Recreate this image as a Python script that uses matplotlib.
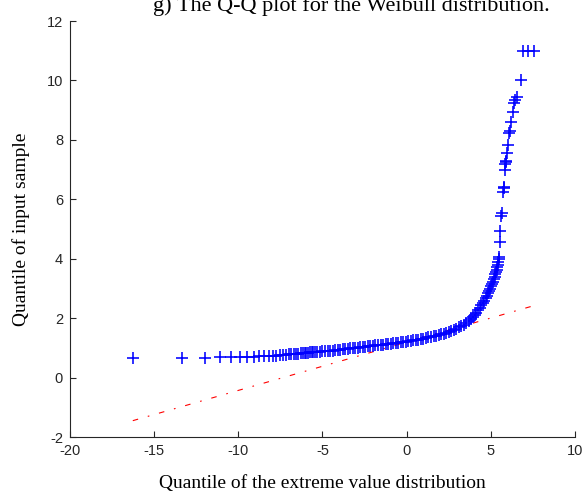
import matplotlib
matplotlib.use("Agg")
import matplotlib.pyplot as plt

# Theoretical quantiles (extreme value distribution) and sorted sample values
x_quant = [
    -16.27, -13.36, -12.00, -11.11, -10.44, -9.91, -9.47, -9.09, -8.76, -8.46,
    -8.20, -7.96, -7.74, -7.53, -7.34, -7.17, -7.00, -6.85, -6.70, -6.56,
    -6.43, -6.30, -6.18, -6.06, -5.95, -5.84, -5.74, -5.64, -5.55, -5.46,
    -5.30, -5.15, -5.00, -4.85, -4.70, -4.55, -4.40, -4.25, -4.10, -3.95,
    -3.80, -3.65, -3.50, -3.35, -3.20, -3.05, -2.90, -2.75, -2.60, -2.45,
    -2.30, -2.15, -2.00, -1.85, -1.70, -1.55, -1.40, -1.25, -1.10, -0.95,
    -0.80, -0.65, -0.50, -0.35, -0.20, -0.05, 0.10, 0.25, 0.40, 0.55,
    0.70, 0.85, 1.00, 1.15, 1.30, 1.45, 1.60, 1.75, 1.90, 2.05,
    2.20, 2.35, 2.50, 2.65, 2.80, 2.95, 3.10, 3.25, 3.40, 3.55,
    3.70, 3.82, 3.94, 4.05, 4.15, 4.25, 4.35, 4.44, 4.53, 4.61,
    4.69, 4.77, 4.84, 4.91, 4.97, 5.03, 5.09, 5.14, 5.19, 5.23,
    5.27, 5.31, 5.35, 5.38, 5.41, 5.44, 5.47, 5.49, 5.54, 5.58,
    5.62, 5.66, 5.74, 5.76, 5.78, 5.82, 5.86, 5.88, 5.90, 5.94,
    6.02, 6.11, 6.17, 6.23, 6.31, 6.37, 6.47, 6.57, 6.77, 6.92,
    7.22, 7.56,
]
y_sample = [
    0.65, 0.65, 0.66, 0.68, 0.70, 0.70, 0.70, 0.70, 0.71, 0.71,
    0.72, 0.73, 0.74, 0.75, 0.76, 0.77, 0.78, 0.79, 0.80, 0.80,
    0.81, 0.82, 0.83, 0.83, 0.84, 0.84, 0.85, 0.85, 0.86, 0.86,
    0.87, 0.87, 0.88, 0.88, 0.89, 0.90, 0.91, 0.92, 0.93, 0.94,
    0.95, 0.96, 0.97, 0.98, 0.99, 1.00, 1.01, 1.02, 1.03, 1.04,
    1.05, 1.06, 1.07, 1.08, 1.09, 1.10, 1.11, 1.12, 1.13, 1.14,
    1.15, 1.17, 1.18, 1.19, 1.20, 1.21, 1.22, 1.24, 1.25, 1.27,
    1.28, 1.30, 1.31, 1.33, 1.35, 1.37, 1.39, 1.41, 1.43, 1.46,
    1.48, 1.51, 1.54, 1.57, 1.61, 1.65, 1.69, 1.73, 1.78, 1.84,
    1.90, 1.97, 2.04, 2.11, 2.19, 2.27, 2.35, 2.43, 2.51, 2.59,
    2.67, 2.75, 2.83, 2.91, 2.99, 3.07, 3.15, 3.23, 3.31, 3.39,
    3.47, 3.55, 3.63, 3.71, 3.80, 3.89, 3.98, 4.06, 4.56, 4.93,
    5.44, 5.55, 6.26, 6.37, 6.43, 6.98, 7.18, 7.24, 7.30, 7.56,
    7.83, 8.23, 8.31, 8.59, 8.95, 9.25, 9.33, 9.44, 10.03, 11.00,
    11.00, 11.00,
]

# Reference line through the quartiles, extended over the data range
line_x = [-16.27, 7.56]
line_y = [-1.45, 2.42]

x_ticks = [-20, -15, -10, -5, 0, 5, 10]
y_ticks = [-2, 0, 2, 4, 6, 8, 10, 12]

axis_gray = "#262626"
serif = ["Liberation Serif", "DejaVu Serif"]
sans = ["Liberation Sans", "DejaVu Sans"]

fig = plt.figure(figsize=(5.85, 4.97), dpi=100)
ax = fig.add_axes([0.1197, 0.1207, 0.863, 0.837])

ax.plot(line_x, line_y, color="red", lw=0.8, linestyle=(0, (5, 9, 1.5, 9)),
        zorder=1)
ax.plot(x_quant, y_sample, linestyle="none", marker="+", color="blue",
        markersize=8.5, markeredgewidth=1.15, zorder=2)

ax.set_xlim(-20, 10)
ax.set_ylim(-2, 12)
ax.set_xticks(x_ticks)
ax.set_yticks(y_ticks)
ax.set_xticklabels([str(v) for v in x_ticks], fontfamily=sans)
ax.set_yticklabels([str(v) for v in y_ticks], fontfamily=sans)
ax.tick_params(direction="in", length=4, width=0.8, colors=axis_gray,
               labelsize=10.5, pad=5)

for side in ("top", "right"):
    ax.spines[side].set_visible(False)
for side in ("left", "bottom"):
    ax.spines[side].set_color(axis_gray)
    ax.spines[side].set_linewidth(0.8)

ax.set_xlabel("Quantile of the extreme value distribution", fontfamily=serif,
              fontsize=14, color="black", labelpad=12)
ax.set_ylabel("Quantile of input sample", fontfamily=serif, fontsize=14,
              color="black", labelpad=12)

fig.text(0.60, 0.978, "g) The Q-Q plot for the Weibull distribution.",
         fontfamily=serif, fontsize=16, ha="center", va="baseline",
         color="black")

fig.savefig("out.png", dpi=100)
